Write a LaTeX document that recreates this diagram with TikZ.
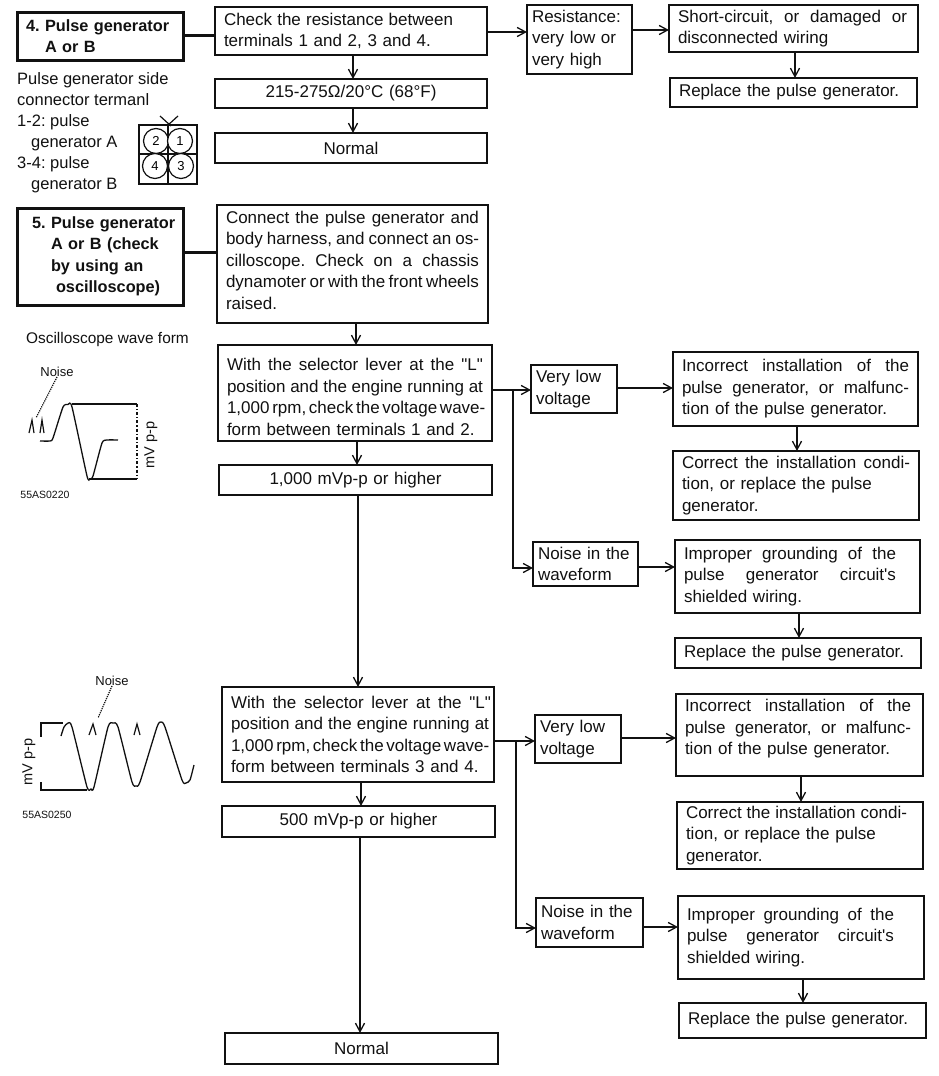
\documentclass[tikz,border=0pt]{standalone}
\usepackage{fontspec}
\setmainfont{Liberation Sans}[Ligatures=TeXOff]
\usepackage{xcolor}
\usetikzlibrary{positioning,arrows.meta}
\definecolor{PGink}{HTML}{111111}
\newcommand{\wline}[2]{\makebox[#1pt][s]{\spaceskip=.28em plus 1fil minus .12em\relax #2}}
\newcommand{\jline}[1]{\makebox[\hsize][s]{\spaceskip=.28em plus 1fil minus .12em\relax #1}}
\tikzset{
  flowbox/.style 2 args={draw=PGink, line width=1.4pt, fill=white, outer sep=0pt, align=left, text=PGink, font=\fontsize{17}{21.5}\selectfont\frenchspacing, inner xsep=9pt, inner ysep=0pt, minimum width=#1pt, text width=#1pt-18pt, minimum height=#2pt},
  tinybox/.style 2 args={flowbox={#1}{#2}, inner xsep=5pt, text width=#1pt-10pt},
  stepbox/.style 2 args={flowbox={#1}{#2}, line width=3pt, inner xsep=9pt, text width=#1pt-18pt, font=\fontsize{16.3}{21.5}\selectfont\bfseries\frenchspacing},
  resultbox/.style={align=center},
  nw/.style={anchor=north west},
  flowarr/.style={-{Straight Barb[length=3mm,width=3.2mm]}, line width=1.3pt, draw=PGink},
  steplink/.style={line width=3pt, draw=PGink},
  sidetext/.style={inner sep=0pt, align=left, text=PGink, font=\fontsize{16.5}{21}\selectfont\frenchspacing},
  smalltext/.style={inner sep=0pt, text=PGink, font=\fontsize{13}{15}\selectfont},
  tinytext/.style={inner sep=0pt, text=PGink, font=\fontsize{10.5}{12}\selectfont},
  wave/.style={line width=1.3pt, draw=PGink},
  pin/.style={line width=1.2pt, draw=PGink}
}
\begin{document}
\begin{tikzpicture}[x=1pt,y=-1pt]
\useasboundingbox (0,0) rectangle (938,1076);
% step 4
\node[stepbox={166}{48}, nw] (bfour) at (17,12) {\mbox{4. Pulse generator}\\\hspace*{19pt}A or B};
\node[flowbox={272}{48}, right=32pt of bfour.north east, nw, yshift=5pt] (check) {\wline{229}{Check the resistance between}\\terminals 1 and 2, 3 and 4.};
\node[flowbox={272}{29}, resultbox, below=24pt of check.south west, nw] (spec) {215-275Ω/20°C (68°F)};
\node[flowbox={272}{30}, resultbox, below=25pt of spec.south west, nw] (normal) {Normal};
\node[tinybox={105}{69}, right=40pt of check.north east, nw, yshift=2pt] (resist) {Resistance:\\very low or\\very high};
\node[flowbox={249}{47}, right=37pt of resist.north east, nw] (short) {\wline{229}{Short-circuit, or damaged or}\\disconnected wiring};
\node[flowbox={247}{29}, below=26pt of short.south west, nw, xshift=1pt] (repa) {Replace the pulse generator.};
% step 5
\node[stepbox={166}{97}, nw, inner xsep=15pt, text width=136pt] (bfive) at (17,208) {\mbox{5. Pulse generator}\\\hspace*{19pt}A or B (check\\\hspace*{19pt}by using an\\\hspace*{24pt}oscilloscope)};
\node[flowbox={271}{118}, right=34pt of bfive.north east, nw, yshift=3pt] (conn) {\jline{Connect the pulse generator and}\\\jline{body harness, and connect an os-}\\\jline{cilloscope. Check on a chassis}\\\jline{dynamoter or with the front wheels}\\raised.\\[-13.5pt]\mbox{}};
\node[flowbox={274}{96}, below=22pt of conn.south west, nw, xshift=1pt] (lowa) {\mbox{}\\[-1.5pt]\jline{With the selector lever at the "L"}\\\jline{position and the engine running at}\\\jline{1,000 rpm, check the voltage wave-}\\form between terminals 1 and 2.};
\node[flowbox={273}{30}, resultbox, below=24pt of lowa.south west, nw, xshift=1pt] (higha) {1,000 mVp-p or higher};
\node[tinybox={86}{48}, right=39pt of lowa.north east, nw, yshift=-20pt] (vlowa) {Very low\\voltage};
\node[flowbox={245}{74}, right=56pt of vlowa.north east, nw, yshift=13pt] (inca) {\wline{227}{Incorrect installation of the}\\\wline{227}{pulse generator, or malfunc-}\\tion of the pulse generator.};
\node[flowbox={246}{69}, below=25pt of inca.south west, nw] (cora) {\jline{Correct the installation condi-}\\tion, or replace the pulse\\generator.};
\node[tinybox={105}{44}, below=129pt of vlowa.south west, nw, xshift=2pt] (noisa) {Noise in the\\waveform};
\node[flowbox={245}{73}, right=37pt of noisa.north east, nw, yshift=2pt] (impa) {\wline{212}{Improper grounding of the}\\\wline{212}{pulse generator circuit's}\\shielded wiring.};
\node[flowbox={246}{30}, below=25pt of impa.south west, nw] (repb) {Replace the pulse generator.};
% second wave form
\node[flowbox={272}{95}, below=192pt of higha.south west, nw, xshift=3pt] (lowb) {\wline{260}{With the selector lever at the "L"}\\\wline{258}{position and the engine running at}\\\wline{252}{1,000 rpm, check the voltage wave-}\\form between terminals 3 and 4.};
\node[flowbox={273}{31}, resultbox, below=24pt of lowb.south west, nw] (highb) {500 mVp-p or higher};
\node[flowbox={273}{31}, resultbox, below=196pt of highb.south west, nw, xshift=3pt] (normalb) {Normal};
\node[tinybox={86}{48}, right=41pt of lowb.north east, nw, yshift=-28pt] (vlowb) {Very low\\voltage};
\node[flowbox={247}{82}, right=55pt of vlowb.north east, nw, yshift=21pt] (incb) {\wline{226}{Incorrect installation of the}\\\wline{226}{pulse generator, or malfunc-}\\tion of the pulse generator.\\[-5.5pt]\mbox{}};
\node[flowbox={246}{67}, below=26pt of incb.south west, nw, xshift=1pt] (corb) {\wline{221}{Correct the installation condi-}\\tion, or replace the pulse\\generator.};
\node[tinybox={107}{49}, below=135pt of vlowb.south west, nw, xshift=1pt] (noisb) {Noise in the\\waveform};
\node[flowbox={246}{83}, right=35pt of noisb.north east, nw, yshift=2pt] (impb) {\wline{207}{Improper grounding of the}\\\wline{207}{pulse generator circuit's}\\shielded wiring.};
\node[flowbox={247}{35}, below=24pt of impb.south west, nw, xshift=1pt] (repc) {Replace the pulse generator.};
% connectors
\draw[steplink] (bfour.east |- 0,35) -- (check.west |- 0,35);
\draw[steplink] ([yshift=4.5pt]bfive.east) -- ([yshift=4.5pt]bfive.east -| conn.west);
\draw[flowarr] ([xshift=2pt]check.south) -- ([xshift=2pt]check.south |- spec.north);
\draw[flowarr] ([xshift=2pt]spec.south) -- ([xshift=2pt]spec.south |- normal.north);
\draw[flowarr] ([yshift=-1pt]check.east) -- ([yshift=-1pt]check.east -| resist.west);
\draw[flowarr] ([yshift=9.5pt]resist.east) -- ([yshift=9.5pt]resist.east -| short.west);
\draw[flowarr] ([xshift=1.5pt]short.south) -- ([xshift=1.5pt]short.south |- repa.north);
\draw[flowarr] ([xshift=3.5pt]conn.south) -- ([xshift=3.5pt]conn.south |- lowa.north);
\draw[flowarr] ([xshift=2pt]lowa.south) -- ([xshift=2pt]lowa.south |- higha.north);
\draw[flowarr] ([xshift=2.5pt]higha.south) -- ([xshift=2.5pt]higha.south |- lowb.north);
\draw[flowarr] ([xshift=3pt]lowb.south) -- ([xshift=3pt]lowb.south |- highb.north);
\draw[flowarr] ([xshift=1.5pt]highb.south) -- ([xshift=1.5pt]highb.south |- normalb.north);
% first branch
\coordinate (tapa) at ([yshift=-1pt]vlowa.west -| 513,0);
\draw[flowarr] ([yshift=-1pt]vlowa.west -| lowa.east) -- ([yshift=-1pt]vlowa.west);
\draw[flowarr] (tapa) |- ([yshift=-4pt]noisa.west);
\draw[flowarr] ([yshift=1pt]vlowa.east) -- ([yshift=1pt]vlowa.east -| inca.west);
\draw[flowarr] ([xshift=1.5pt]inca.south) -- ([xshift=1.5pt]inca.south |- cora.north);
\draw[flowarr] ([yshift=-3pt]noisa.east) -- ([yshift=-3pt]noisa.east -| impa.west);
\draw[flowarr] ([xshift=1.5pt]impa.south) -- ([xshift=1.5pt]impa.south |- repb.north);
% second branch
\coordinate (tapb) at ([yshift=-2pt]vlowb.west -| 516,0);
\draw[flowarr] ([yshift=-2pt]vlowb.west -| lowb.east) -- ([yshift=-2pt]vlowb.west);
\draw[flowarr] (tapb) |- ([yshift=-5.5pt]noisb.west);
\draw[flowarr] ([yshift=1pt]vlowb.east) -- ([yshift=1pt]vlowb.east -| incb.west);
\draw[flowarr] ([xshift=1.5pt]incb.south) -- ([xshift=1.5pt]incb.south |- corb.north);
\draw[flowarr] ([yshift=-4.5pt]noisb.east) -- ([yshift=-4.5pt]noisb.east -| impb.west);
\draw[flowarr] ([xshift=2pt]impb.south) -- ([xshift=2pt]impb.south |- repc.north);
% side notes
\node[sidetext, nw] (termnote) at (17,72) {Pulse generator side\\connector termanl\\1-2: pulse\\\hspace*{14pt}generator A\\3-4: pulse\\\hspace*{14pt}generator B};
\node[smalltext, nw, font=\fontsize{15.4}{17}\selectfont] (wavetitle) at (26,332) {Oscilloscope wave form};
\node[smalltext] (noisetexta) at (57,372) {Noise};
\node[smalltext, rotate=90, font=\fontsize{14.5}{16}\selectfont] (mva) at (151,445) {mV p-p};
\node[tinytext] (codea) at (45,495) {55AS0220};
\node[smalltext] (noisetextb) at (112,681) {Noise};
\node[smalltext, rotate=90, font=\fontsize{14.5}{16}\selectfont] (mvb) at (29,762) {mV p-p};
\node[tinytext] (codeb) at (47,815) {55AS0250};
% connector sketch
\draw[pin] (139,125) rectangle (197,184);
\draw[pin] (168,125) -- (168,184) (139,154) -- (197,154);
\draw[pin] (160,116) -- (171,126) (178,116) -- (167,126);
\node[circle, pin, fill=white, minimum size=25pt, inner sep=0pt, font=\fontsize{13}{15}\selectfont] (pintwo) at (156,141) {2};
\node[circle, pin, fill=white, minimum size=25pt, inner sep=0pt, font=\fontsize{13}{15}\selectfont] (pinone) at (180,141) {1};
\node[circle, pin, fill=white, minimum size=25pt, inner sep=0pt, font=\fontsize{13}{15}\selectfont] (pinfour) at (155,166) {4};
\node[circle, pin, fill=white, minimum size=25pt, inner sep=0pt, font=\fontsize{13}{15}\selectfont] (pinthree) at (181,166) {3};
% wave form 1
\draw[wave] plot[smooth, tension=.35] coordinates {(40,441) (50,441) (53,438) (63,407) (68,404.5) (72,407) (87,476) (90,479) (93,476) (102,443) (107,440) (118,440)};
\draw[pin] (72,404) -- (137,404);
\draw[pin, dash dot] (137,404) -- (137,479);
\draw[pin] (89,479) -- (137,479);
\draw[pin] (29,433) -- (32,420) -- (34,433) (40,433) -- (42,420) -- (44,433);
\draw[pin, densely dotted] (noisetexta.south) -- (36,418);
% wave form 2
\draw[wave] plot[smooth, tension=.35] coordinates {(61,736) (64,727) (68,723) (72,727) (87,787) (91,789) (94,787) (108,727) (113,723) (118,727) (132,782) (136,786) (140,782) (157,727) (161,722) (165,727) (182,780) (186,783) (190,780) (194,765)};
\draw[pin] (40,723) -- (63,723);
\draw[pin] (40,790) -- (87,790);
\draw[pin] (41,723) -- (41,737) (41,782) -- (41,790);
\draw[pin] (89,735) -- (93,724) -- (96,735) (134,735) -- (137,724) -- (140,735);
\draw[pin, densely dotted] (noisetextb.south) -- (98,718);
\end{tikzpicture}
\end{document}
